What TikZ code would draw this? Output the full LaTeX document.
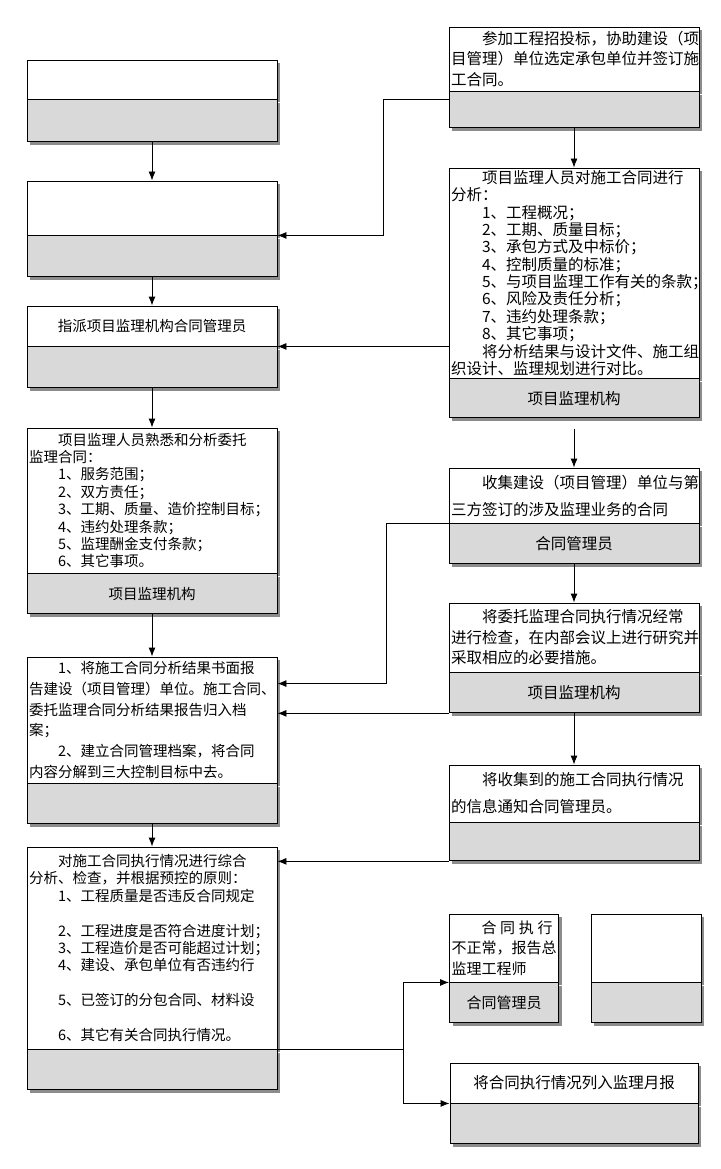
\documentclass[tikz,border=0pt]{standalone}
\usepackage{fontspec}
\setmainfont{Noto Sans CJK SC}
\usetikzlibrary{positioning}
\usetikzlibrary{shadows}
\usetikzlibrary{arrows.meta}
\definecolor{partgray}{RGB}{217,217,217}
\definecolor{shadegray}{RGB}{140,140,140}
\tikzset{>={Latex[length=9pt,width=7pt]}}
\tikzset{
  box/.style={draw, line width=0.9pt, inner xsep=2pt, inner ysep=0pt,
    drop shadow={shadow xshift=3pt, shadow yshift=-3pt, fill=shadegray, opacity=1}},
  upper/.style 2 args={box, fill=white, align=left, text width=#1, minimum height=#2},
  lower/.style 2 args={box, fill=partgray, align=center, text width=#1, minimum height=#2},
  conn/.style={line width=0.9pt, ->},
  lfont/.style={font=\fontsize{14.5}{#1}\selectfont},
  rfont/.style={font=\fontsize{15.5}{#1}\selectfont},
}
\begin{document}
\begin{tikzpicture}[x=1pt,y=-1pt]
\useasboundingbox (0,0) rectangle (720,1169);
\begin{scope}
    %left column
    \node[upper={246pt}{39pt}] (l1) at (152,79.5) {};
    \node[lower={246pt}{42pt}, below=0pt of l1] (l1g) {};
    \node[upper={246pt}{54pt}] (l2) at (152,208) {};
    \node[lower={246pt}{41pt}, below=0pt of l2] (l2g) {};
    \node[upper={246pt}{40pt}, align=center, lfont=17] (l3) at (152,326) {指派项目监理机构合同管理员};
    \node[lower={246pt}{41pt}, below=0pt of l3] (l3g) {};
    \node[upper={246pt}{145pt}, lfont=17.4] (l4) at (152,500.5)
        {\hspace*{2em}项目监理人员熟悉和分析委托\\
         监理合同：\\
         \hspace*{2em}1、服务范围；\\
         \hspace*{2em}2、双方责任；\\
         \hspace*{2em}3、工期、质量、造价控制目标；\\
         \hspace*{2em}4、违约处理条款；\\
         \hspace*{2em}5、监理酬金支付条款；\\
         \hspace*{2em}6、其它事项。};
    \node[lower={246pt}{40pt}, below=0pt of l4, lfont=17] (l4g) {项目监理机构};
    \node[upper={246pt}{126pt}, lfont=20.7] (l5) at (152,720)
        {\hspace*{2em}1、将施工合同分析结果书面报\\
         告建设（项目管理）单位。施工合同、\\
         委托监理合同分析结果报告归入档\\
         案；\\
         \hspace*{2em}2、建立合同管理档案，将合同\\
         内容分解到三大控制目标中去。};
    \node[lower={246pt}{40pt}, below=0pt of l5] (l5g) {};
    \node[upper={246pt}{202pt}, lfont=17.4] (l6) at (152,948)
        {\hspace*{2em}对施工合同执行情况进行综合\\
         分析、检查，并根据预控的原则：\\
         \hspace*{2em}1、工程质量是否违反合同规定\\[17.4pt]
         \hspace*{2em}2、工程进度是否符合进度计划；\\
         \hspace*{2em}3、工程造价是否可能超过计划；\\
         \hspace*{2em}4、建设、承包单位有否违约行\\[17.4pt]
         \hspace*{2em}5、已签订的分包合同、材料设\\[17.4pt]
         \hspace*{2em}6、其它有关合同执行情况。};
    \node[lower={246pt}{40pt}, below=0pt of l6] (l6g) {};
    %right column
    \node[upper={246pt}{64pt}, rfont=20.5] (r1) at (574,59)
        {\hspace*{2em}参加工程招投标，协助建设（项\\
         目管理）单位选定承包单位并签订施\\
         工合同。};
    \node[lower={246pt}{36pt}, below=0pt of r1] (r1g) {};
    \node[upper={246pt}{210pt}, rfont=17.36] (r2) at (574,273)
        {\hspace*{2em}项目监理人员对施工合同进行\\
         分析：\\
         \hspace*{2em}1、工程概况；\\
         \hspace*{2em}2、工期、质量目标；\\
         \hspace*{2em}3、承包方式及中标价；\\
         \hspace*{2em}4、控制质量的标准；\\
         \hspace*{2em}5、与项目监理工作有关的条款；\\
         \hspace*{2em}6、风险及责任分析；\\
         \hspace*{2em}7、违约处理条款；\\
         \hspace*{2em}8、其它事项；\\
         \hspace*{2em}将分析结果与设计文件、施工组\\
         织设计、监理规划进行对比。};
    \node[lower={246pt}{39pt}, below=0pt of r2, rfont=17] (r2g) {项目监理机构};
    \node[upper={246pt}{55pt}, rfont=27] (r3) at (574,495.5)
        {\hspace*{2em}收集建设（项目管理）单位与第\\
         三方签订的涉及监理业务的合同};
    \node[lower={246pt}{40pt}, below=0pt of r3, rfont=17] (r3g) {合同管理员};
    \node[upper={246pt}{69pt}, rfont=20.5] (r4) at (574,637.5)
        {\hspace*{2em}将委托监理合同执行情况经常\\
         进行检查，在内部会议上进行研究并\\
         采取相应的必要措施。};
    \node[lower={246pt}{40pt}, below=0pt of r4, rfont=17] (r4g) {项目监理机构};
    \node[upper={246pt}{57pt}, rfont=27] (r5) at (574,793.5)
        {\hspace*{2em}将收集到的施工合同执行情况\\
         的信息通知合同管理员。};
    \node[lower={246pt}{38pt}, below=0pt of r5] (r5g) {};
    %small boxes
    \node[upper={105pt}{68pt}, font=\fontsize{15}{20.5}\selectfont] (r6) at (504,948)
        {\hspace*{2em}合\hspace{0.25em}同\hspace{0.25em}执\hspace{0.25em}行\\
         不正常，报告总\\
         监理工程师};
    \node[lower={105pt}{40pt}, below=0pt of r6, font=\fontsize{15}{17}\selectfont] (r6g) {合同管理员};
    \node[upper={106pt}{68pt}] (r8) at (646,948) {};
    \node[lower={106pt}{40pt}, below=0pt of r8] (r8g) {};
    \node[upper={244pt}{40pt}, align=center, rfont=17] (r7) at (574,1083) {将合同执行情况列入监理月报};
    \node[lower={244pt}{40pt}, below=0pt of r7] (r7g) {};
    %vertical arrows
    \draw[conn] (l1g) -- (l2);
    \draw[conn] (l2g) -- (l3);
    \draw[conn] (l3g) -- (l4);
    \draw[conn] (l4g) -- (l5);
    \draw[conn] (l5g) -- (l6);
    \draw[conn] (r1g) -- (r2);
    \draw[conn, shorten <=11pt] (r2g) -- (r3);
    \draw[conn] (r3g) -- (r4);
    \draw[conn] (r4g) -- (r5);
    %links to the left column
    \draw[conn] ([yshift=10pt]r1g.west) -- ++(-65,0) |- (l2g.north east);
    \draw[conn] (r2.west |- l3g.north) -- (l3g.north east);
    \draw[conn] (r3g.north west) -- ++(-62,0) |- ([yshift=-27pt]l5.north east);
    \draw[conn] (r4g.south west) -- (r4g.south west -| l5.east);
    \draw[conn] (r5g.south west) -- (r5g.south west -| l6.east);
    %fork to the report boxes
    \draw[line width=0.9pt] (l6g.north east) -- ++(126,0) coordinate (fork);
    \draw[conn] (fork) |- (r6g.north west);
    \draw[conn] (fork) |- (r7g.north west);
\end{scope}
\end{tikzpicture}
\end{document}
